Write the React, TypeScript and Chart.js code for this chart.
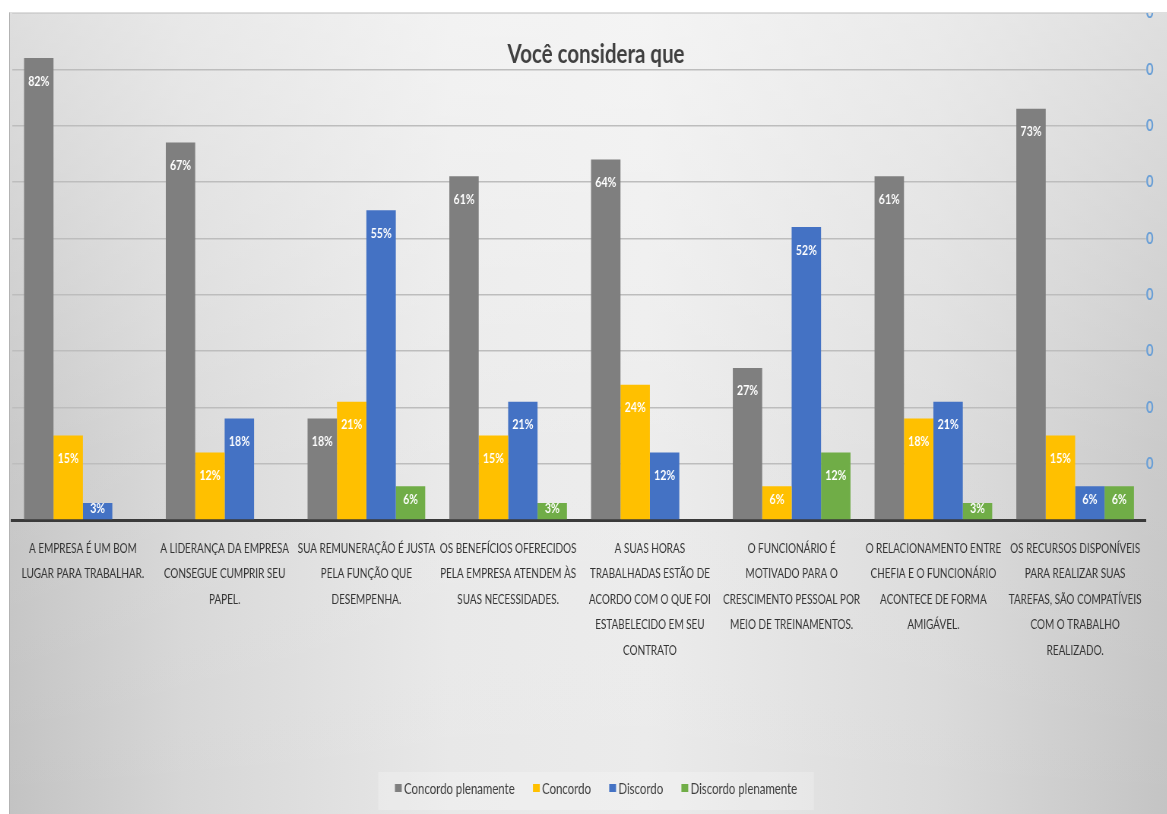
import React, { useEffect, useRef } from 'react';
import { Chart, registerables } from 'chart.js';

Chart.register(...registerables);

// ---------- data ----------
const chartTitle = 'Você considera que';
const categories: string[][] = [
  ['A EMPRESA É UM BOM', 'LUGAR PARA TRABALHAR.'],
  ['A LIDERANÇA DA EMPRESA', 'CONSEGUE CUMPRIR SEU', 'PAPEL.'],
  ['SUA REMUNERAÇÃO É JUSTA', 'PELA FUNÇÃO QUE', 'DESEMPENHA.'],
  ['OS BENEFÍCIOS OFERECIDOS', 'PELA EMPRESA ATENDEM ÀS', 'SUAS NECESSIDADES.'],
  ['A SUAS HORAS', 'TRABALHADAS ESTÃO DE', 'ACORDO COM O QUE FOI', 'ESTABELECIDO EM SEU', 'CONTRATO'],
  ['O FUNCIONÁRIO É', 'MOTIVADO PARA O', 'CRESCIMENTO PESSOAL POR', 'MEIO DE TREINAMENTOS.'],
  ['O RELACIONAMENTO ENTRE', 'CHEFIA E O FUNCIONÁRIO', 'ACONTECE DE FORMA', 'AMIGÁVEL.'],
  ['OS RECURSOS DISPONÍVEIS', 'PARA REALIZAR SUAS', 'TAREFAS, SÃO COMPATÍVEIS', 'COM O TRABALHO', 'REALIZADO.'],
];
const concordoPlenamente = [82, 67, 18, 61, 64, 27, 61, 73];
const concordo = [15, 12, 21, 15, 24, 6, 18, 15];
const discordo = [3, 18, 55, 21, 12, 52, 21, 6];
const discordoPlenamente: (number | null)[] = [null, null, 6, 3, null, 12, 3, 6];
const seriesNames = ['Concordo plenamente', 'Concordo', 'Discordo', 'Discordo plenamente'];
const seriesColors = ['#7f7f7f', '#ffc000', '#4472c4', '#70ad47'];
const axisMin = 0;
const axisMax = 90;
const axisStep = 10;
const rightTickLabel = '0';

// ---------- layout ----------
const SX = 0.76; // horizontal squeeze of the reference rendering
const VW = 1157;
const H = 801;
const W = Math.round(VW / SX);
const PLOT_L = 2 / SX;
const PLOT_R = 1136 / SX;
const PLOT_B = 507;
const FONT = "Lato, 'Open Sans', 'DejaVu Sans', sans-serif";

const overlayPlugin = {
  id: 'overlay',
  afterDatasetsDraw(chart: any) {
    const ctx = chart.ctx as CanvasRenderingContext2D;
    ctx.save();
    ctx.font = `bold 14px ${FONT}`;
    ctx.fillStyle = '#ffffff';
    ctx.textAlign = 'center';
    ctx.textBaseline = 'middle';
    chart.data.datasets.forEach((ds: any, i: number) => {
      const meta = chart.getDatasetMeta(i);
      meta.data.forEach((bar: any, j: number) => {
        const v = ds.data[j];
        if (v == null) return;
        const { x, y, base } = bar.getProps(['x', 'y', 'base'], true);
        const h = base - y;
        const off = Math.min(23, Math.max(h / 2 - 3, 3));
        ctx.fillText(`${v}%`, x, y + off);
      });
    });
    ctx.restore();
  },
  afterDraw(chart: any) {
    const ctx = chart.ctx as CanvasRenderingContext2D;
    ctx.save();
    // title
    ctx.font = `bold 27px ${FONT}`;
    ctx.fillStyle = '#404040';
    ctx.textAlign = 'center';
    ctx.textBaseline = 'alphabetic';
    ctx.fillText(chartTitle, 586 / SX, 50);

    // legend
    ctx.font = `15px ${FONT}`;
    const box = 9;
    const gapBT = 3;
    const gapItems = 24;
    const items = chart.data.datasets.map((ds: any) => ({
      label: ds.label as string,
      color: ds.backgroundColor as string,
      w: box + gapBT + ctx.measureText(ds.label).width,
    }));
    const total = items.reduce((s: number, it: any) => s + it.w, 0) + gapItems * (items.length - 1);
    const cx = 586 / SX;
    const cy = 775;
    let x = cx - total / 2;
    ctx.fillStyle = 'rgba(255,255,255,0.22)';
    ctx.fillRect(x - 22, 759, total + 44, 38);
    ctx.textAlign = 'left';
    ctx.textBaseline = 'middle';
    items.forEach((it: any) => {
      ctx.fillStyle = it.color;
      ctx.fillRect(x, cy - 4, box, 8);
      ctx.fillStyle = '#404040';
      ctx.fillText(it.label, x + box + gapBT, cy + 1);
      x += it.w + gapItems;
    });
    ctx.restore();
  },
};

export default function App() {
  const ref = useRef<HTMLCanvasElement>(null);

  useEffect(() => {
    if (!ref.current) return;
    const datasets = [concordoPlenamente, concordo, discordo, discordoPlenamente].map((d, i) => ({
      label: seriesNames[i],
      data: d,
      backgroundColor: seriesColors[i],
      borderWidth: 0,
      categoryPercentage: 0.83,
      barPercentage: 1.0,
      yAxisID: 'y',
    }));
    const chart = new Chart(ref.current, {
      type: 'bar',
      data: { labels: categories, datasets },
      plugins: [overlayPlugin],
      options: {
        animation: false,
        responsive: false,
        devicePixelRatio: 1,
        layout: { padding: 0 },
        plugins: {
          legend: { display: false },
          tooltip: { enabled: false },
          title: { display: false },
        },
        scales: {
          x: {
            grid: { display: false, drawTicks: false },
            border: { display: true, color: '#3a3a3a', width: 3 },
            ticks: {
              autoSkip: false,
              maxRotation: 0,
              minRotation: 0,
              padding: 16,
              color: '#333333',
              font: { family: FONT, size: 13.1, lineHeight: 1.94 },
            },
            afterFit(scale: any) {
              scale.height = H - PLOT_B;
              scale.paddingLeft = 0;
              scale.paddingRight = 0;
            },
          },
          y: {
            position: 'left',
            min: axisMin,
            max: axisMax,
            grid: { color: '#bdbdbd', lineWidth: 1.5, drawTicks: false },
            border: { display: false },
            ticks: { display: false, stepSize: axisStep },
            afterFit(scale: any) {
              scale.width = PLOT_L;
              scale.paddingTop = 0;
              scale.paddingBottom = 0;
            },
          },
          y2: {
            position: 'right',
            min: axisMin,
            max: axisMax,
            grid: { display: false, drawTicks: false },
            border: { display: false },
            ticks: {
              stepSize: axisStep,
              padding: 0,
              color: '#6a9fd6',
              font: { family: FONT, size: 17, weight: 'bold' },
              callback: (v: any) => (Number(v) === 0 ? '' : rightTickLabel),
            },
            afterFit(scale: any) {
              scale.width = W - PLOT_R;
              scale.paddingTop = 0;
              scale.paddingBottom = 0;
            },
          },
        },
      } as any,
    });
    return () => chart.destroy();
  }, []);

  return (
    <div
      style={{
        position: 'absolute',
        left: 9,
        top: 12,
        width: VW,
        height: H,
        overflow: 'hidden',
        borderLeft: '1px solid #b3b3b3',
        borderTop: '1px solid #dedede',
        background:
          'linear-gradient(to bottom, rgba(255,255,255,0.45) 0%, rgba(255,255,255,0.1) 55%, rgba(255,255,255,0) 100%), linear-gradient(to right, #c3c3c3 0%, #d6d6d6 15%, #e8e8e8 38%, #ebebeb 55%, #dadada 80%, #c4c4c4 100%)',
      }}
    >
      <div style={{ width: W, height: H, transform: `scaleX(${SX})`, transformOrigin: '0 0' }}>
        <canvas ref={ref} width={W} height={H} style={{ display: 'block', width: W, height: H }} />
      </div>
    </div>
  );
}
